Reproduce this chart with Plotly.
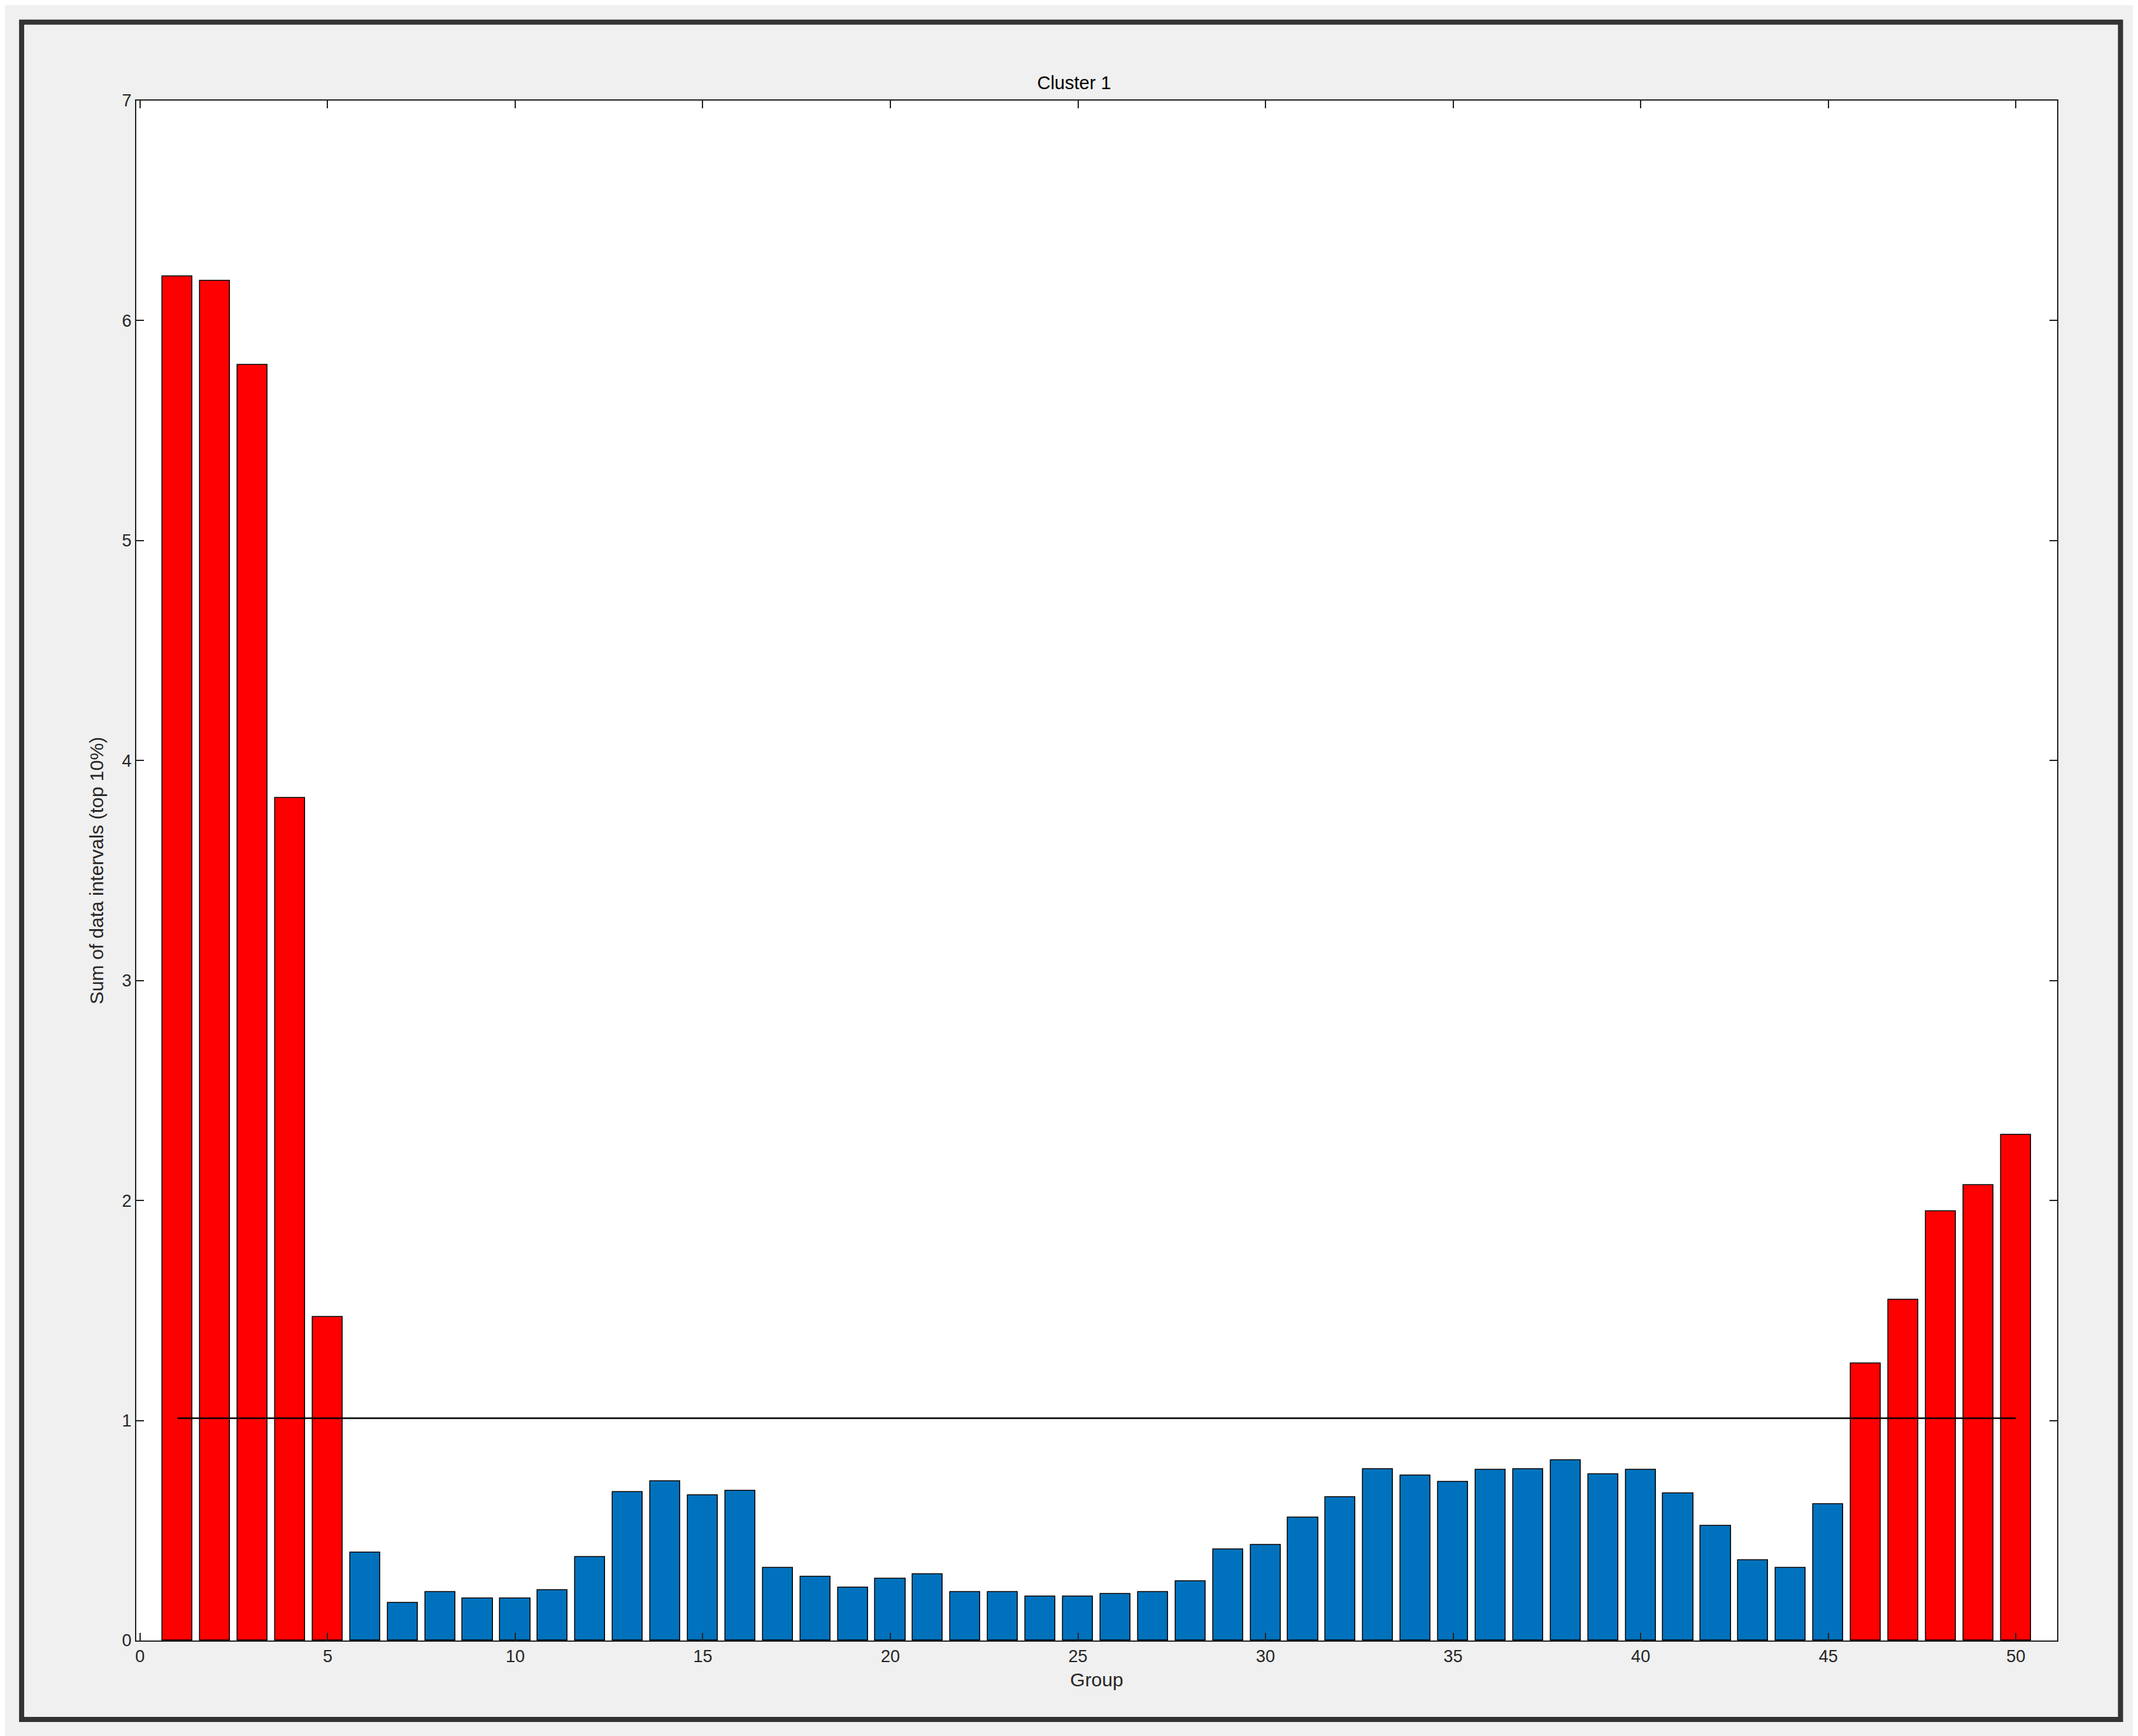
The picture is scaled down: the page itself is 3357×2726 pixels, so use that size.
import plotly.graph_objects as go

groups = list(range(1, 51))
values = [6.2, 6.18, 5.8, 3.83, 1.47, 0.40, 0.17, 0.22, 0.19, 0.19,
          0.23, 0.38, 0.675, 0.725, 0.66, 0.68, 0.33, 0.29, 0.24, 0.28,
          0.30, 0.22, 0.22, 0.20, 0.20, 0.21, 0.22, 0.27, 0.415, 0.435,
          0.56, 0.65, 0.78, 0.75, 0.72, 0.775, 0.78, 0.82, 0.755, 0.775,
          0.67, 0.52, 0.365, 0.33, 0.62, 1.26, 1.55, 1.95, 2.07, 2.30]
threshold = 1.01
red_groups = [1, 2, 3, 4, 5, 46, 47, 48, 49, 50]

colors = ["#ff0000" if g in red_groups else "#0072bd" for g in groups]

fig = go.Figure()
fig.add_trace(go.Bar(x=groups, y=values, width=0.8, marker_color=colors,
                     marker_line_color="#000000", marker_line_width=1.5))
fig.add_trace(go.Scatter(x=[groups[0], groups[-1]], y=[threshold, threshold], mode="lines",
                         line=dict(color="#000000", width=2.5)))

axis_common = dict(showgrid=False, zeroline=False, showline=True, mirror="ticks",
                   linecolor="#262626", linewidth=2, ticks="inside", ticklen=12,
                   tickcolor="#262626", tickwidth=2,
                   tickfont=dict(family="Liberation Sans, Arial", size=27, color="#262626"))

fig.update_layout(
    width=3357, height=2726,
    margin=dict(l=206, r=135, t=150, b=158),
    paper_bgcolor="#f0f0f0", plot_bgcolor="#ffffff",
    showlegend=False, bargap=0,
    title=dict(text="Cluster 1", x=0.5, xanchor="center", y=1 - 122/2726, yanchor="middle",
               font=dict(family="Liberation Sans, Arial", size=29, color="#000000")),
    xaxis=dict(range=[-0.1, 51.1], tickvals=[0, 5, 10, 15, 20, 25, 30, 35, 40, 45, 50],
               title=dict(text="Group", standoff=12,
                          font=dict(family="Liberation Sans, Arial", size=30, color="#262626")),
               **axis_common),
    yaxis=dict(range=[0, 7], tickvals=[0, 1, 2, 3, 4, 5, 6, 7],
               title=dict(text="Sum of data intervals (top 10%)", standoff=20,
                          font=dict(family="Liberation Sans, Arial", size=30, color="#262626")),
               **axis_common),
    shapes=[dict(type="rect", xref="paper", yref="paper",
                 x0=-0.0597, x1=1.033, y0=-0.0513, y1=1.051,
                 line=dict(color="#333333", width=8), layer="below")],
)

fig.write_html("out.html")
